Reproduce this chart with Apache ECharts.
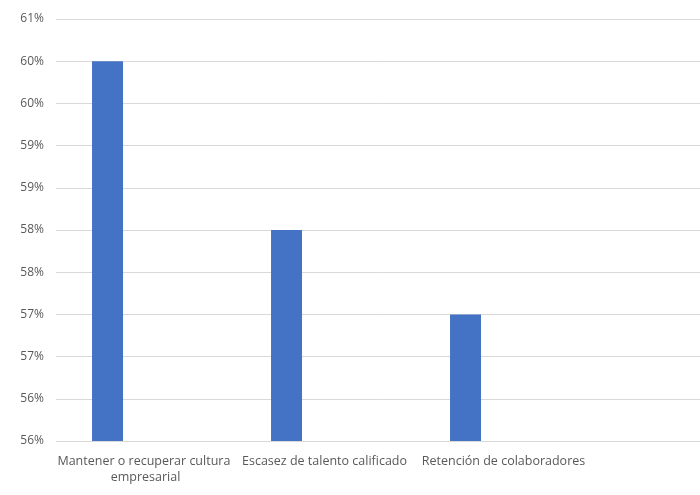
<!DOCTYPE html>
<html>
<head>
<meta charset="utf-8">
<script src="https://cdn.jsdelivr.net/npm/echarts@6/dist/echarts.min.js"></script>
<style>
	html, body { margin: 0; padding: 0; background: #fff; }
	#main { width: 700px; height: 495px; }
</style>
</head>
<body>
<div id="main"></div>
<script>
// datos (la 4a categoria queda vacia, el grafico original esta recortado a la derecha)
var categories = ['Mantener o recuperar cultura empresarial', 'Escasez de talento calificado', 'Retención de colaboradores', ''];
var values = [60, 58, 57, null];
// segunda serie del grafico agrupado, sin valores visibles
var values2 = [null, null, null, null];
var yMin = 55.5, yMax = 60.5, yStep = 0.5;

var myChart = echarts.init(document.getElementById('main'));
var labelColor = '#595959';
var gridColor = '#d9d9d9';
var font = 'Open Sans';

var option = {
	animation: false,
	grid: {
		left: 56,
		width: 716,
		top: 19,
		bottom: 54,
		outerBoundsMode: 'none'
	},
	xAxis: {
		type: 'category',
		data: categories,
		axisLine: { show: false },
		axisTick: { show: false },
		axisLabel: {
			color: labelColor,
			fontFamily: font,
			fontSize: 12.5,
			margin: 12,
			lineHeight: 16,
			width: 179,
			overflow: 'break',
			interval: 0
		}
	},
	yAxis: {
		type: 'value',
		min: yMin,
		max: yMax,
		interval: yStep,
		axisLine: { show: false },
		axisTick: { show: false },
		axisLabel: {
			color: labelColor,
			fontFamily: font,
			fontSize: 12,
			margin: 12,
			formatter: function (v) {
				return Math.round(v) + '%';
			}
		},
		splitLine: {
			show: true,
			lineStyle: { color: gridColor, width: 1 }
		}
	},
	series: [{
		type: 'bar',
		data: values,
		barWidth: 31,
		barGap: '145%',
		itemStyle: { color: '#4472C4' },
		z: 3
	}, {
		type: 'bar',
		data: values2,
		barWidth: 31,
		itemStyle: { color: '#ED7D31' }
	}]
};
myChart.setOption(option);
</script>
</body>
</html>
